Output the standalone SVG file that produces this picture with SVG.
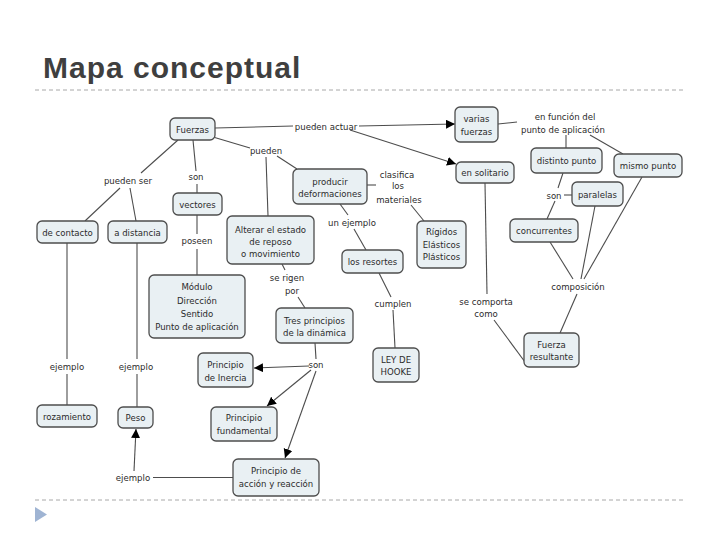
<svg xmlns="http://www.w3.org/2000/svg" width="720" height="540" viewBox="0 0 720 540">
<defs>
<style>
.box{fill:#e9f0f3;stroke:#4d4d4d;stroke-width:1.3}
.t{font-family:"DejaVu Sans Condensed","DejaVu Sans",sans-serif;font-stretch:condensed;font-size:9.5px;fill:#2b2b2b;text-anchor:middle}
.c line,.c polyline{stroke:#4d4d4d;stroke-width:1.1;fill:none}
.dash{stroke:#a8a8a8;stroke-width:1;stroke-dasharray:4 3}
</style>
<marker id="ar" markerWidth="10" markerHeight="10" refX="9" refY="4.5" orient="auto" markerUnits="userSpaceOnUse">
<path d="M0,0 L9,4.5 L0,9 Z" fill="#000"/>
</marker>
</defs>
<rect width="720" height="540" fill="#fff"/>
<text x="43" y="78" font-family="Liberation Sans, Arial, sans-serif" font-weight="bold" font-size="30" letter-spacing="1" fill="#3f3f3f">Mapa conceptual</text>
<line class="dash" x1="35" y1="90" x2="685" y2="90"/>
<line class="dash" x1="35" y1="500" x2="685" y2="500"/>
<path d="M35,507 L47,514.5 L35,522 Z" fill="#9fb4d3"/>

<g class="c" id="connectors">
<line x1="215" y1="128" x2="293" y2="126"/>
<line x1="359" y1="126" x2="455" y2="124" marker-end="url(#ar)"/>
<line x1="350" y1="130" x2="456" y2="164" marker-end="url(#ar)"/>
<line x1="213" y1="137" x2="250" y2="148"/>
<line x1="277" y1="156" x2="297" y2="169"/>
<line x1="266" y1="157" x2="268" y2="216"/>
<line x1="178" y1="140" x2="141" y2="173"/>
<line x1="120" y1="188" x2="85" y2="221"/>
<line x1="130" y1="188" x2="136" y2="221"/>
<line x1="193" y1="140" x2="196" y2="171"/>
<line x1="197" y1="184" x2="197" y2="193"/>
<line x1="197" y1="215" x2="197" y2="234"/>
<line x1="197" y1="249" x2="197" y2="275"/>
<line x1="67" y1="243" x2="67" y2="359"/>
<line x1="67" y1="374" x2="67" y2="405"/>
<line x1="137" y1="243" x2="137" y2="359"/>
<line x1="137" y1="374" x2="137" y2="407"/>
<line x1="282" y1="264" x2="285" y2="270"/>
<line x1="298" y1="297" x2="305" y2="308"/>
<line x1="367" y1="185" x2="376" y2="185"/>
<line x1="411" y1="205" x2="424" y2="221"/>
<line x1="340" y1="204" x2="348" y2="215"/>
<line x1="354" y1="229" x2="366" y2="250"/>
<line x1="379" y1="273" x2="391" y2="297"/>
<line x1="393" y1="310" x2="395" y2="348"/>
<line x1="485" y1="183" x2="487" y2="294"/>
<line x1="494" y1="320" x2="525" y2="362"/>
<line x1="498" y1="124" x2="517" y2="122"/>
<line x1="566" y1="135" x2="566" y2="148"/>
<line x1="590" y1="135" x2="623" y2="154"/>
<line x1="563" y1="173" x2="558" y2="188"/>
<line x1="564" y1="195" x2="572" y2="195"/>
<line x1="555" y1="201" x2="547" y2="219"/>
<line x1="550" y1="242" x2="573" y2="279"/>
<line x1="595" y1="206" x2="581" y2="279"/>
<line x1="642" y1="177" x2="584" y2="279"/>
<line x1="577" y1="294" x2="560" y2="333"/>
<line x1="315" y1="343" x2="316" y2="359"/>
<line x1="309" y1="366" x2="254" y2="368" marker-end="url(#ar)"/>
<line x1="311" y1="370" x2="267" y2="406" marker-end="url(#ar)"/>
<line x1="316" y1="371" x2="285" y2="458" marker-end="url(#ar)"/>
<line x1="233" y1="477.5" x2="153" y2="477.5"/>
<line x1="134" y1="471" x2="136" y2="429" marker-end="url(#ar)"/>
</g>

<g id="labels" class="t">
<text x="326" y="129.5">pueden actuar</text>
<text x="266" y="153.5">pueden</text>
<text x="128" y="184">pueden ser</text>
<text x="196" y="180">son</text>
<text x="197" y="244">poseen</text>
<text x="397" y="177.5">clasifica</text>
<text x="398" y="189">los</text>
<text x="399" y="202.5">materiales</text>
<text x="352" y="226">un ejemplo</text>
<text x="287" y="281">se rigen</text>
<text x="292" y="293.5">por</text>
<text x="316" y="368">son</text>
<text x="67" y="370">ejemplo</text>
<text x="136" y="370">ejemplo</text>
<text x="133" y="481">ejemplo</text>
<text x="393" y="307">cumplen</text>
<text x="486" y="305">se comporta</text>
<text x="486" y="317">como</text>
<text x="565" y="119.5">en función del</text>
<text x="563" y="132.5">punto de aplicación</text>
<text x="554" y="198.5">son</text>
<text x="578" y="290">composición</text>
</g>

<g id="n-fuerzas"><rect class="box" x="170" y="118" width="45" height="22" rx="5"/><text class="t" x="192.5" y="132.5">Fuerzas</text></g>
<g id="n-varias"><rect class="box" x="455" y="107" width="43" height="35" rx="5"/><text class="t" x="476.5" y="121.5">varias</text><text class="t" x="476.5" y="134.5">fuerzas</text></g>
<g id="n-solitario"><rect class="box" x="456" y="162" width="58" height="21" rx="5"/><text class="t" x="485" y="176">en solitario</text></g>
<g id="n-distinto"><rect class="box" x="531" y="148" width="71" height="25" rx="5"/><text class="t" x="566.5" y="164">distinto punto</text></g>
<g id="n-mismo"><rect class="box" x="614" y="154" width="68" height="23" rx="5"/><text class="t" x="648" y="169">mismo punto</text></g>
<g id="n-paralelas"><rect class="box" x="572" y="182" width="51" height="24" rx="5"/><text class="t" x="597.5" y="197.5">paralelas</text></g>
<g id="n-concurrentes"><rect class="box" x="510" y="219" width="68" height="23" rx="5"/><text class="t" x="544" y="234">concurrentes</text></g>
<g id="n-resultante"><rect class="box" x="524" y="333" width="55" height="34" rx="5"/><text class="t" x="551.5" y="347.5">Fuerza</text><text class="t" x="551.5" y="360">resultante</text></g>
<g id="n-contacto"><rect class="box" x="37" y="221" width="61" height="22" rx="5"/><text class="t" x="67.5" y="235.5">de contacto</text></g>
<g id="n-distancia"><rect class="box" x="108" y="221" width="59" height="22" rx="5"/><text class="t" x="137.5" y="235.5">a distancia</text></g>
<g id="n-vectores"><rect class="box" x="173" y="193" width="49" height="22" rx="5"/><text class="t" x="197.5" y="207.5">vectores</text></g>
<g id="n-alterar"><rect class="box" x="227" y="216" width="87" height="48" rx="5"/><text class="t" x="270.5" y="232.5">Alterar el estado</text><text class="t" x="270.5" y="244.5">de reposo</text><text class="t" x="270.5" y="256.5">o movimiento</text></g>
<g id="n-producir"><rect class="box" x="293" y="169" width="74" height="35" rx="5"/><text class="t" x="330" y="185">producir</text><text class="t" x="330" y="197">deformaciones</text></g>
<g id="n-rigidos"><rect class="box" x="417" y="221" width="49" height="47" rx="5"/><text class="t" x="441.5" y="235">Rígidos</text><text class="t" x="441.5" y="247.5">Elásticos</text><text class="t" x="441.5" y="260">Plásticos</text></g>
<g id="n-resortes"><rect class="box" x="342" y="250" width="61" height="23" rx="5"/><text class="t" x="372.5" y="264.5">los resortes</text></g>
<g id="n-modulo"><rect class="box" x="149" y="275" width="96" height="63" rx="5"/><text class="t" x="197" y="290">Módulo</text><text class="t" x="197" y="303.5">Dirección</text><text class="t" x="197" y="316.5">Sentido</text><text class="t" x="197" y="329.5">Punto de aplicación</text></g>
<g id="n-tres"><rect class="box" x="276" y="308" width="77" height="35" rx="5"/><text class="t" x="314.5" y="323.5">Tres principios</text><text class="t" x="314.5" y="335.5">de la dinámica</text></g>
<g id="n-inercia"><rect class="box" x="198" y="353" width="55" height="34" rx="5"/><text class="t" x="225.5" y="368">Principio</text><text class="t" x="225.5" y="380.5">de Inercia</text></g>
<g id="n-rozamiento"><rect class="box" x="37" y="405" width="60" height="22" rx="5"/><text class="t" x="67" y="419.5">rozamiento</text></g>
<g id="n-peso"><rect class="box" x="118" y="407" width="35" height="21" rx="5"/><text class="t" x="135.5" y="421">Peso</text></g>
<g id="n-fundamental"><rect class="box" x="211" y="407" width="66" height="34" rx="5"/><text class="t" x="244" y="421">Principio</text><text class="t" x="244" y="433.5">fundamental</text></g>
<g id="n-accion"><rect class="box" x="233" y="459" width="86" height="37" rx="5"/><text class="t" x="276" y="474">Principio de</text><text class="t" x="276" y="487">acción y reacción</text></g>
<g id="n-hooke"><rect class="box" x="373" y="348" width="46" height="34" rx="5"/><text class="t" x="396" y="362.5">LEY DE</text><text class="t" x="396" y="374.5">HOOKE</text></g>
</svg>
